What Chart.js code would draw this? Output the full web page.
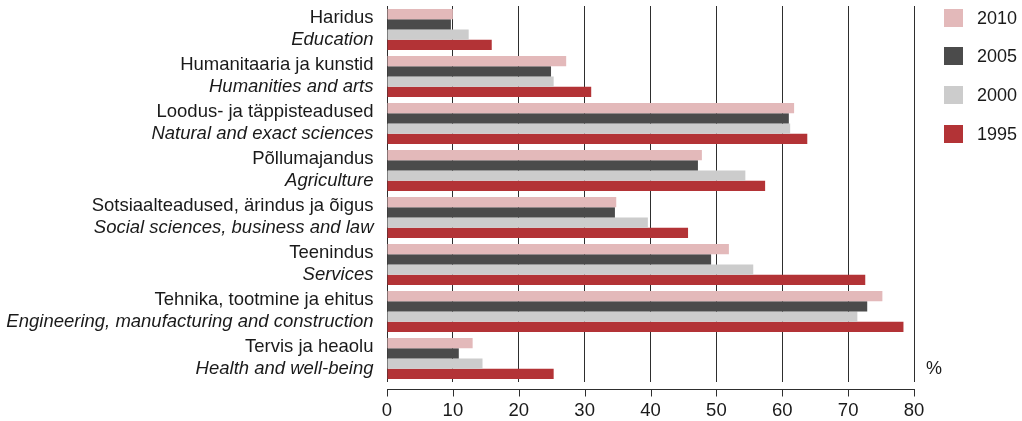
<!DOCTYPE html>
<html>
<head>
<meta charset="utf-8">
<script src="https://cdn.jsdelivr.net/npm/chart.js@4.4.1/dist/chart.umd.min.js"></script>
<style>
  html, body { margin: 0; padding: 0; background: #fff; }
  #wrap { position: relative; width: 1022px; height: 421px; }
  #legend { position: absolute; left: 944px; top: 0; font: 18px "Liberation Sans", Arial, sans-serif; color: #1a1a1a; }
  .item { position: absolute; left: 0; display: flex; align-items: center; white-space: nowrap; line-height: 18px; }
  .swatch { width: 19px; height: 18px; margin-right: 14px; }
</style>
</head>
<body>
<div id="wrap">
  <canvas id="chart" width="1022" height="421"></canvas>
  <div id="legend"></div>
</div>
<script>
const categoriesEt = [
  "Haridus",
  "Humanitaaria ja kunstid",
  "Loodus- ja täppisteadused",
  "Põllumajandus",
  "Sotsiaalteadused, ärindus ja õigus",
  "Teenindus",
  "Tehnika, tootmine ja ehitus",
  "Tervis ja heaolu"
]
const categoriesEn = [
  "Education",
  "Humanities and arts",
  "Natural and exact sciences",
  "Agriculture",
  "Social sciences, business and law",
  "Services",
  "Engineering, manufacturing and construction",
  "Health and well-being"
]
const years = ["2010", "2005", "2000", "1995"]
const values2010 = [10.0, 27.2, 61.8, 47.8, 34.8, 51.9, 75.2, 13.0]
const values2005 = [9.7, 24.9, 61.0, 47.2, 34.6, 49.2, 72.9, 10.9]
const values2000 = [12.4, 25.3, 61.2, 54.4, 39.6, 55.6, 71.4, 14.5]
const values1995 = [15.9, 31.0, 63.8, 57.4, 45.7, 72.6, 78.4, 25.3]
const xTicks = [0, 10, 20, 30, 40, 50, 60, 70, 80]
const unitLabel = "%"

const colors = ["#e3b9ba", "#4b4b4b", "#cccccc", "#b33336"]
const seriesValues = [values2010, values2005, values2000, values1995]

const fontFamily = '"Liberation Sans", Arial, sans-serif'
const labelSize = 18.5
const textColor = "#1a1a1a"
const lineColor = "#2e2e2e"

// two-line category labels (Estonian normal, English italic), detached axis line and % sign
const sideLabels = {
  id: "sideLabels",
  afterDraw(chart) {
    const { ctx, chartArea, scales } = chart
    const yScale = scales.y
    const xScale = scales.x
    ctx.save()
    ctx.fillStyle = textColor
    ctx.textAlign = "right"
    ctx.textBaseline = "middle"
    categoriesEt.forEach((label, i) => {
      const py = yScale.getPixelForValue(i)
      ctx.font = labelSize + "px " + fontFamily
      ctx.fillText(label, chartArea.left - 13.5, py - 11.5)
      ctx.font = "italic " + labelSize + "px " + fontFamily
      ctx.fillText(categoriesEn[i], chartArea.left - 13.5, py + 10.5)
    })

    const ay = Math.round(chartArea.bottom + 7) + 0.5
    ctx.strokeStyle = lineColor
    ctx.lineWidth = 1
    ctx.beginPath()
    ctx.moveTo(chartArea.left, ay)
    ctx.lineTo(chartArea.right + 1, ay)
    xScale.ticks.forEach(t => {
      const px = Math.round(xScale.getPixelForValue(t.value)) + 0.5
      ctx.moveTo(px, ay)
      ctx.lineTo(px, ay + 7)
    })
    ctx.stroke()

    ctx.textAlign = "left"
    ctx.font = "18px " + fontFamily
    ctx.fillText(unitLabel, chartArea.right + 12, chartArea.bottom - 13)
    ctx.restore()
  }
}

const chart = new Chart(document.getElementById("chart"), {
  type: "bar",
  data: {
    labels: categoriesEt,
    datasets: years.map((year, i) => ({
      label: year,
      data: seriesValues[i],
      backgroundColor: colors[i],
      borderWidth: 0,
      barPercentage: 1.0,
      categoryPercentage: 41 / 47
    }))
  },
  options: {
    indexAxis: "y",
    responsive: false,
    devicePixelRatio: 1,
    animation: false,
    layout: {
      padding: { left: 387, right: 108, top: 6, bottom: 0 }
    },
    plugins: {
      legend: { display: false },
      tooltip: { enabled: false }
    },
    scales: {
      x: {
        min: 0,
        max: 80,
        afterBuildTicks: scale => {
          scale.ticks = xTicks.map(v => ({ value: v }))
        },
        afterFit: scale => {
          scale.height = 39
        },
        grid: {
          color: lineColor,
          lineWidth: 1,
          drawTicks: false
        },
        border: { display: false },
        ticks: {
          color: textColor,
          padding: 18,
          font: { family: fontFamily, size: 18.5 },
          maxRotation: 0
        }
      },
      y: {
        display: false
      }
    }
  },
  plugins: [sideLabels]
})

// legend built from the same arrays
const legend = document.getElementById("legend")
years.forEach((year, i) => {
  const item = document.createElement("div")
  item.className = "item"
  item.style.top = (8.5 + i * 38.9) + "px"
  const sw = document.createElement("span")
  sw.className = "swatch"
  sw.style.background = colors[i]
  const txt = document.createElement("span")
  txt.textContent = year
  item.appendChild(sw)
  item.appendChild(txt)
  legend.appendChild(item)
})
</script>
</body>
</html>
